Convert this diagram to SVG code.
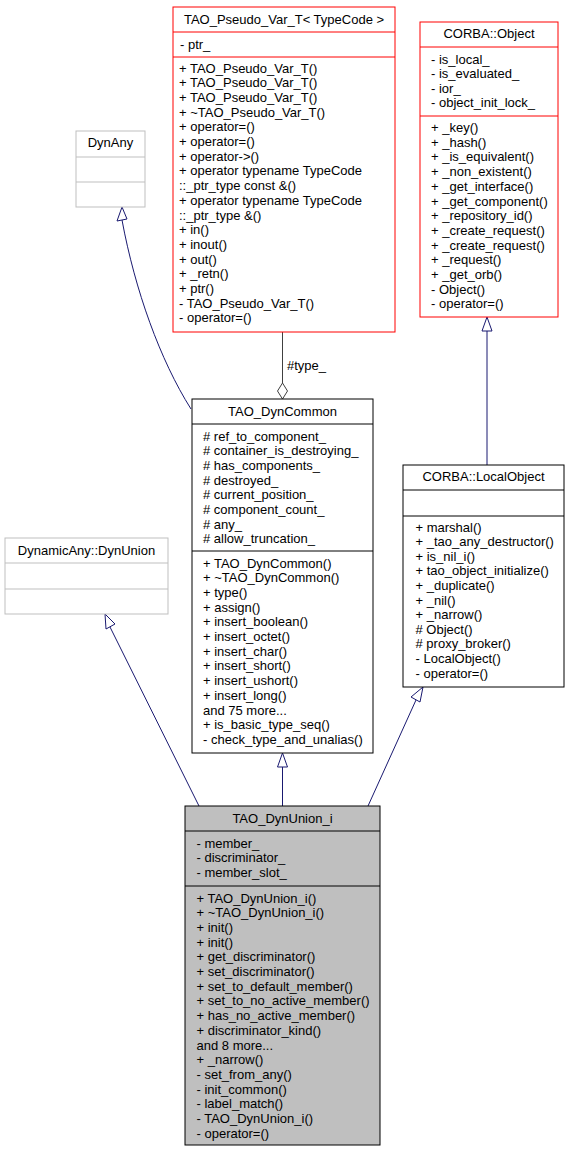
<svg xmlns="http://www.w3.org/2000/svg" width="569" height="1152" viewBox="0 0 569 1152">
<style>
text{font-family:"Liberation Sans",Arial,Helvetica,sans-serif;font-size:13px;fill:#000}
.t{text-anchor:middle}
.box{fill:#fff;stroke-width:1}
.red{stroke:#ff0000}
.gry{stroke:#bfbfbf}
.blk{stroke:#000}
.sel{fill:#bfbfbf;stroke:#000}
.inh{fill:none;stroke:#191970;stroke-width:1}
.head{fill:#fff;stroke:#191970;stroke-width:1}
</style>
<rect width="569" height="1152" fill="#fff"/>
<g id="connectors">
  <path class="inh" d="M122,220 C135,290 160,360 191,409"/>
  <polygon class="head" points="122,207 117,221 127,219"/>
  <line x1="487" y1="331" x2="487" y2="465" class="inh"/>
  <polygon class="head" points="487,317 482,331 492,331"/>
  <line x1="282.5" y1="767" x2="282.5" y2="806" class="inh"/>
  <polygon class="head" points="282.5,753 277.5,767 287.5,767"/>
  <line x1="110" y1="627" x2="199" y2="806" class="inh"/>
  <polygon class="head" points="105,614 106,629 115,624"/>
  <line x1="416" y1="700" x2="368" y2="806" class="inh"/>
  <polygon class="head" points="423,687 411,697 420,702"/>
  <line x1="282.5" y1="332" x2="282.5" y2="383" stroke="#404040" stroke-width="1"/>
  <polygon points="282.5,383 277.5,391 282.5,399 287.5,391" fill="#fff" stroke="#404040" stroke-width="1"/>
  <text x="287" y="369.5">#type_</text>
</g>
<g id="TAO_Pseudo_Var_T">
  <rect x="173" y="7" width="222" height="325" class="box red"/>
  <line x1="173" y1="32" x2="395" y2="32" class="red"/>
  <line x1="173" y1="57" x2="395" y2="57" class="red"/>
  <text x="284" y="23.5" class="t">TAO_Pseudo_Var_T&lt; TypeCode &gt;</text>
  <text x="180" y="48.5">- ptr_</text>
  <text x="179" y="72.5">+ TAO_Pseudo_Var_T()</text>
  <text x="179" y="87.2">+ TAO_Pseudo_Var_T()</text>
  <text x="179" y="101.9">+ TAO_Pseudo_Var_T()</text>
  <text x="179" y="116.6">+ ~TAO_Pseudo_Var_T()</text>
  <text x="179" y="131.3">+ operator=()</text>
  <text x="179" y="146">+ operator=()</text>
  <text x="179" y="160.7">+ operator-&gt;()</text>
  <text x="179" y="175.4">+ operator typename TypeCode</text>
  <text x="179" y="190.1">::_ptr_type const &amp;()</text>
  <text x="179" y="204.8">+ operator typename TypeCode</text>
  <text x="179" y="219.5">::_ptr_type &amp;()</text>
  <text x="179" y="234.2">+ in()</text>
  <text x="179" y="248.9">+ inout()</text>
  <text x="179" y="263.6">+ out()</text>
  <text x="179" y="278.3">+ _retn()</text>
  <text x="179" y="293">+ ptr()</text>
  <text x="179" y="307.7">- TAO_Pseudo_Var_T()</text>
  <text x="179" y="322.4">- operator=()</text>
</g>
<g id="CORBA_Object">
  <rect x="420" y="22" width="138" height="295" class="box red"/>
  <line x1="420" y1="47" x2="558" y2="47" class="red"/>
  <line x1="420" y1="116" x2="558" y2="116" class="red"/>
  <text x="489" y="37.5" class="t">CORBA::Object</text>
  <text x="431" y="63.5">- is_local_</text>
  <text x="431" y="78">- is_evaluated_</text>
  <text x="431" y="92.5">- ior_</text>
  <text x="431" y="107">- object_init_lock_</text>
  <text x="431" y="132">+ _key()</text>
  <text x="431" y="146.7">+ _hash()</text>
  <text x="431" y="161.4">+ _is_equivalent()</text>
  <text x="431" y="176.1">+ _non_existent()</text>
  <text x="431" y="190.8">+ _get_interface()</text>
  <text x="431" y="205.5">+ _get_component()</text>
  <text x="431" y="220.2">+ _repository_id()</text>
  <text x="431" y="234.9">+ _create_request()</text>
  <text x="431" y="249.6">+ _create_request()</text>
  <text x="431" y="264.3">+ _request()</text>
  <text x="431" y="279">+ _get_orb()</text>
  <text x="431" y="293.7">- Object()</text>
  <text x="431" y="308.4">- operator=()</text>
</g>
<g id="DynAny">
  <rect x="76" y="131" width="69" height="76" class="box gry"/>
  <line x1="76" y1="157" x2="145" y2="157" class="gry"/>
  <line x1="76" y1="182" x2="145" y2="182" class="gry"/>
  <text x="110.5" y="147" class="t">DynAny</text>
</g>
<g id="TAO_DynCommon">
  <rect x="192" y="399" width="181" height="354" class="box blk"/>
  <line x1="192" y1="424" x2="373" y2="424" class="blk"/>
  <line x1="192" y1="551" x2="373" y2="551" class="blk"/>
  <text x="282.5" y="415.5" class="t">TAO_DynCommon</text>
  <text x="203" y="440.5"># ref_to_component_</text>
  <text x="203" y="455.2"># container_is_destroying_</text>
  <text x="203" y="469.9"># has_components_</text>
  <text x="203" y="484.6"># destroyed_</text>
  <text x="203" y="499.3"># current_position_</text>
  <text x="203" y="514"># component_count_</text>
  <text x="203" y="528.7"># any_</text>
  <text x="203" y="543.4"># allow_truncation_</text>
  <text x="203" y="567.5">+ TAO_DynCommon()</text>
  <text x="203" y="582.2">+ ~TAO_DynCommon()</text>
  <text x="203" y="596.9">+ type()</text>
  <text x="203" y="611.6">+ assign()</text>
  <text x="203" y="626.3">+ insert_boolean()</text>
  <text x="203" y="641">+ insert_octet()</text>
  <text x="203" y="655.7">+ insert_char()</text>
  <text x="203" y="670.4">+ insert_short()</text>
  <text x="203" y="685.1">+ insert_ushort()</text>
  <text x="203" y="699.8">+ insert_long()</text>
  <text x="203" y="714.5">and 75 more...</text>
  <text x="203" y="729.2">+ is_basic_type_seq()</text>
  <text x="203" y="743.9">- check_type_and_unalias()</text>
</g>
<g id="CORBA_LocalObject">
  <rect x="403" y="465" width="161" height="222" class="box blk"/>
  <line x1="403" y1="490" x2="564" y2="490" class="blk"/>
  <line x1="403" y1="516" x2="564" y2="516" class="blk"/>
  <text x="483.5" y="481" class="t">CORBA::LocalObject</text>
  <text x="415.5" y="531.5">+ marshal()</text>
  <text x="415.5" y="546.1">+ _tao_any_destructor()</text>
  <text x="415.5" y="560.7">+ is_nil_i()</text>
  <text x="415.5" y="575.3">+ tao_object_initialize()</text>
  <text x="415.5" y="589.9">+ _duplicate()</text>
  <text x="415.5" y="604.5">+ _nil()</text>
  <text x="415.5" y="619.1">+ _narrow()</text>
  <text x="415.5" y="633.7"># Object()</text>
  <text x="415.5" y="648.3"># proxy_broker()</text>
  <text x="415.5" y="662.9">- LocalObject()</text>
  <text x="415.5" y="677.5">- operator=()</text>
</g>
<g id="DynamicAny_DynUnion">
  <rect x="5" y="538" width="163" height="76" class="box gry"/>
  <line x1="5" y1="563" x2="168" y2="563" class="gry"/>
  <line x1="5" y1="589" x2="168" y2="589" class="gry"/>
  <text x="86.5" y="555" class="t">DynamicAny::DynUnion</text>
</g>
<g id="TAO_DynUnion_i">
  <rect x="185" y="806" width="195" height="339" class="sel"/>
  <line x1="185" y1="831" x2="380" y2="831" stroke="#000"/>
  <line x1="185" y1="886" x2="380" y2="886" stroke="#000"/>
  <text x="282.5" y="822.5" class="t">TAO_DynUnion_i</text>
  <text x="196.5" y="847.5">- member_</text>
  <text x="196.5" y="862.2">- discriminator_</text>
  <text x="196.5" y="876.9">- member_slot_</text>
  <text x="196.5" y="902.5">+ TAO_DynUnion_i()</text>
  <text x="196.5" y="917.2">+ ~TAO_DynUnion_i()</text>
  <text x="196.5" y="931.9">+ init()</text>
  <text x="196.5" y="946.6">+ init()</text>
  <text x="196.5" y="961.3">+ get_discriminator()</text>
  <text x="196.5" y="976">+ set_discriminator()</text>
  <text x="196.5" y="990.7">+ set_to_default_member()</text>
  <text x="196.5" y="1005.4">+ set_to_no_active_member()</text>
  <text x="196.5" y="1020.1">+ has_no_active_member()</text>
  <text x="196.5" y="1034.8">+ discriminator_kind()</text>
  <text x="196.5" y="1049.5">and 8 more...</text>
  <text x="196.5" y="1064.2">+ _narrow()</text>
  <text x="196.5" y="1078.9">- set_from_any()</text>
  <text x="196.5" y="1093.6">- init_common()</text>
  <text x="196.5" y="1108.3">- label_match()</text>
  <text x="196.5" y="1123">- TAO_DynUnion_i()</text>
  <text x="196.5" y="1137.7">- operator=()</text>
</g>
</svg>
